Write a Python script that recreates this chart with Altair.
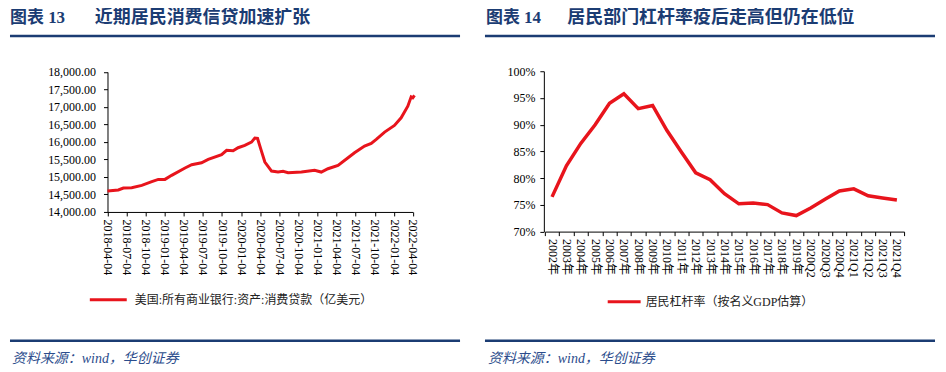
import altair as alt
import pandas as pd

# ---------------- data ----------------
left_dates = ["2018-04-04", "2018-05-26", "2018-06-19", "2018-07-29", "2018-09-15",
              "2018-11-02", "2018-12-03", "2019-01-04", "2019-02-05", "2019-04-10",
              "2019-05-12", "2019-06-28", "2019-07-30", "2019-10-02", "2019-10-26",
              "2019-11-26", "2019-12-20", "2020-01-21", "2020-02-22", "2020-03-09",
              "2020-03-22", "2020-04-07", "2020-04-26", "2020-05-28", "2020-06-28",
              "2020-07-22", "2020-08-15", "2020-10-18", "2020-12-20", "2021-01-21",
              "2021-02-22", "2021-04-11", "2021-05-29", "2021-06-29", "2021-08-16",
              "2021-09-17", "2021-10-11", "2021-11-20", "2022-01-06", "2022-02-07",
              "2022-03-11", "2022-03-27", "2022-04-04", "2022-04-12"]
left_values = [14600, 14627, 14684, 14690, 14760, 14864, 14930, 14930, 15046, 15255,
               15350, 15406, 15502, 15635, 15760, 15750, 15835, 15900, 15996, 16110,
               16100, 15788, 15426, 15169, 15140, 15160, 15120, 15140, 15189, 15140,
               15235, 15332, 15548, 15690, 15882, 15959, 16073, 16281, 16472, 16689,
               17022, 17288, 17260, 17328]
left_ticks = [(2018, 4), (2018, 7), (2018, 10), (2019, 1), (2019, 4), (2019, 7), (2019, 10),
              (2020, 1), (2020, 4), (2020, 7), (2020, 10), (2021, 1), (2021, 4), (2021, 7),
              (2021, 10), (2022, 1), (2022, 4)]
left_yticks = [14000, 14500, 15000, 15500, 16000, 16500, 17000, 17500, 18000]

right_cats = ["2002年", "2003年", "2004年", "2005年", "2006年", "2007年", "2008年", "2009年",
              "2010年", "2011年", "2012年", "2013年", "2014年", "2015年", "2016年", "2017年",
              "2018年", "2019年", "2020Q2", "2020Q3", "2020Q4", "2021Q1", "2021Q2",
              "2021Q3", "2021Q4"]
right_values = [76.5, 82.3, 86.5, 90.0, 94.0, 95.8, 93.0, 93.6, 88.9, 84.9, 81.0, 79.7,
                77.1, 75.2, 75.35, 75.05, 73.5, 73.0, 74.4, 76.05, 77.6, 78.0, 76.7,
                76.3, 75.9]
right_yticks = [0.70, 0.75, 0.80, 0.85, 0.90, 0.95, 1.00]

title_left = ["图表 13", "近期居民消费信贷加速扩张"]
title_right = ["图表 14", "居民部门杠杆率疫后走高但仍在低位"]
legend_left = "美国:所有商业银行:资产:消费贷款（亿美元）"
legend_right = "居民杠杆率（按名义GDP估算）"
source_text = "资料来源：wind，华创证券"

# ---------------- style ----------------
W, H = 465, 356
FONT = "Liberation Serif, Noto Sans CJK SC"
NAVY = "#1B3C73"
RED = "#E8141C"
one = pd.DataFrame({"k": [0]})


def hrule(x1, x2, y, color, size):
    return alt.Chart(one).mark_rule(color=color, strokeWidth=size).encode(
        x=alt.value(x1), x2=alt.value(x2), y=alt.value(y))


def label(txt, x, y, size, color, weight="normal", style="normal"):
    return alt.Chart(one).mark_text(
        text=txt, align="left", baseline="middle", fontSize=size, color=color,
        fontWeight=weight, fontStyle=style, font=FONT).encode(
        x=alt.value(x), y=alt.value(y))


axis_common = dict(title=None, grid=False, domainColor="#000", tickColor="#000",
                   labelColor="#000", labelFont=FONT, labelFontSize=12, tickSize=4,
                   labelOverlap=False, labelBound=False, labelFlush=False)

# ---------------- left panel ----------------
left_df = pd.DataFrame({"date": left_dates, "value": left_values})
tick_vals = [alt.DateTime(year=y, month=m, date=4, utc=True) for (y, m) in left_ticks]

line1 = alt.Chart(left_df).mark_line(color=RED, strokeWidth=3).encode(
    x=alt.X("date:T",
            scale=alt.Scale(type="utc",
                            domain=[alt.DateTime(year=2018, month=4, date=4, utc=True),
                                    alt.DateTime(year=2022, month=4, date=4, utc=True)],
                            range=[97.7, 403.7]),
            axis=alt.Axis(values=tick_vals,
                          labelExpr="utcFormat(datum.value, '%Y-%m-%d')",
                          labelAngle=90, labelAlign="left", labelBaseline="middle",
                          labelPadding=3, offset=-153, **axis_common)),
    y=alt.Y("value:Q",
            scale=alt.Scale(domain=[14000, 18000], range=[203, 62.7], nice=False, zero=False),
            axis=alt.Axis(values=left_yticks, format=",.2f", labelPadding=8,
                          offset=-97.7, **axis_common)),
)

left_panel = alt.layer(
    line1,
    label(title_left[0], 0, 8.7, 17, NAVY, weight="bold"),
    label(title_left[1], 85, 8.7, 18, NAVY, weight="bold"),
    hrule(0, 451, 26.7, NAVY, 2.7),
    hrule(80, 117, 291, RED, 3),
    label(legend_left, 125, 291, 12, "#222"),
    hrule(0, 451, 332, NAVY, 2.5),
    label(source_text, 2, 350, 14, "#2B4C8C", style="italic"),
).properties(width=W, height=H)

# ---------------- right panel ----------------
right_df = pd.DataFrame({"cat": right_cats, "v": [v / 100 for v in right_values]})

line2 = alt.Chart(right_df).mark_line(color=RED, strokeWidth=3.5).encode(
    x=alt.X("cat:N", sort=right_cats, bandPosition=0.5,
            scale=alt.Scale(type="band", range=[71, 431], paddingInner=0, paddingOuter=0),
            axis=alt.Axis(tickBand="extent", labelAngle=90, labelAlign="left",
                          labelBaseline="middle", labelPadding=3, offset=-133.3,
                          **axis_common)),
    y=alt.Y("v:Q",
            scale=alt.Scale(domain=[0.7, 1.0], range=[222.7, 62], nice=False, zero=False),
            axis=alt.Axis(values=right_yticks, format=".0%", labelPadding=5,
                          offset=-70, **axis_common)),
)

right_panel = alt.layer(
    line2,
    label(title_right[0], 12, 8.7, 17, NAVY, weight="bold"),
    label(title_right[1], 93.5, 8.7, 18, NAVY, weight="bold"),
    hrule(11, 462, 26.7, NAVY, 2.7),
    hrule(134, 167, 293, RED, 3),
    label(legend_right, 172, 293, 12, "#222"),
    hrule(11, 462, 332, NAVY, 2.5),
    label(source_text, 14, 350, 14, "#2B4C8C", style="italic"),
).properties(width=W, height=H)

chart = alt.hconcat(left_panel, right_panel, spacing=0, bounds="flush").configure_view(
    stroke=None).properties(padding=0, background="white")

chart.save("out.html", embed_options={"renderer": "svg", "actions": False})
